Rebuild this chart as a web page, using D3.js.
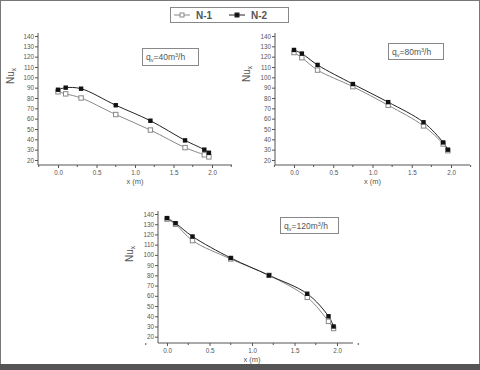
<!DOCTYPE html>
<html><head><meta charset="utf-8">
<script src="https://cdn.jsdelivr.net/npm/d3@7/dist/d3.min.js"></script>
<style>html,body{margin:0;padding:0;background:#fff;}svg{display:block;font-family:"Liberation Sans",Arial,sans-serif;}</style>
</head><body>
<script>
// ---- data ----
const xPos = [0, 0.1, 0.3, 0.75, 1.2, 1.65, 1.9, 1.96];
const seriesNames = ["N-1", "N-2"];
const n1_q40 = [86, 84, 80, 64, 49, 32, 25, 23];
const n2_q40 = [88, 90, 89, 73, 58, 39, 30, 27];
const n1_q80 = [124, 119, 107, 91, 73, 53, 35.5, 29];
const n2_q80 = [126.5, 123, 112, 93.5, 76, 56.5, 37, 30];
const n1_q120 = [135, 130, 114, 96, 80, 58.5, 35, 28];
const n2_q120 = [136, 131, 118, 97, 80, 62, 40, 30];
const flowLabels = ["40", "80", "120"];
const yTicks = [20, 30, 40, 50, 60, 70, 80, 90, 100, 110, 120, 130, 140];
const xTicks = [0.0, 0.5, 1.0, 1.5, 2.0];
const xMinorTicks = [-0.25, 0.25, 0.75, 1.25, 1.75, 2.25];

const W = 480, H = 370;
const svg = d3.select("body").append("svg").attr("width", W).attr("height", H);
svg.append("rect").attr("x", 0).attr("y", 0).attr("width", W).attr("height", H).attr("fill", "#fff");
// frame
svg.append("rect").attr("x", 0.5).attr("y", 0.5).attr("width", W - 1).attr("height", 364)
  .attr("fill", "none").attr("stroke", "#777").attr("stroke-width", 1);
svg.append("rect").attr("x", 0).attr("y", 364).attr("width", W).attr("height", 6).attr("fill", "#555");

const panels = [
  {n1: n1_q40, n2: n2_q40, q: flowLabels[0], axL: 38, axR: 232, x0: 58, x2: 212, yTop: 36, yBot: 160, axB: 165, axT: 33,
   box: [142, 48, 56, 17], nuX: 14, nuY: 76, xlabY: 184},
  {n1: n1_q80, n2: n2_q80, q: flowLabels[1], axL: 275, axR: 470, x0: 294, x2: 451, yTop: 36, yBot: 160, axB: 165, axT: 33,
   box: [388, 43, 55, 16], nuX: 250, nuY: 74, xlabY: 184},
  {n1: n1_q120, n2: n2_q120, q: flowLabels[2], axL: 158, axR: 353, x0: 167, x2: 337, yTop: 214, yBot: 336.7, axB: 343, axT: 211,
   box: [280, 217, 58, 16], nuX: 133, nuY: 254, xlabY: 362}
];

const txt = "#555";
const ms = 4.4;
panels.forEach(p => {
  const x = d3.scaleLinear().domain([0, 2]).range([p.x0, p.x2]);
  const y = d3.scaleLinear().domain([20, 140]).range([p.yBot, p.yTop]);
  const g = svg.append("g");
  // y axis
  const ya = g.append("g").attr("transform", `translate(${p.axL},0)`)
    .call(d3.axisLeft(y).tickValues(yTicks).tickSize(3).tickPadding(1).tickFormat(d3.format("d")));
  ya.select(".domain").remove();
  ya.append("line").attr("x1", 0).attr("x2", 0).attr("y1", p.axT).attr("y2", p.axB).attr("stroke", "#555");
  ya.selectAll("text").attr("font-size", 6.3).attr("fill", txt);
  ya.selectAll("line").attr("stroke", "#555");
  // x axis
  const xa = g.append("g").attr("transform", `translate(0,${p.axB})`)
    .call(d3.axisBottom(x).tickValues(xTicks).tickSize(3).tickPadding(3).tickFormat(d3.format(".1f")));
  xa.select(".domain").remove();
  xa.append("line").attr("x1", p.axL).attr("x2", p.axR).attr("y1", 0).attr("y2", 0).attr("stroke", "#555");
  xa.selectAll("text").attr("font-size", 6.3).attr("fill", txt);
  xa.selectAll("line").attr("stroke", "#555");
  xa.selectAll(".minor").data(xMinorTicks).enter().append("line")
    .attr("x1", d => x(d)).attr("x2", d => x(d)).attr("y1", 0).attr("y2", 2).attr("stroke", "#555");
  // labels
  g.append("text").attr("x", x(1)).attr("y", p.xlabY).attr("text-anchor", "middle")
    .attr("font-size", 7.5).attr("fill", txt).text("x (m)");
  const nu = g.append("text").attr("transform", `translate(${p.nuX},${p.nuY}) rotate(-90)`)
    .attr("text-anchor", "middle").attr("font-size", 10).attr("fill", txt);
  nu.append("tspan").text("Nu");
  nu.append("tspan").attr("font-size", 6.5).attr("dy", 2).text("x");
  // annotation box
  const [bx, by, bw, bh] = p.box;
  g.append("rect").attr("x", bx + 0.5).attr("y", by + 0.5).attr("width", bw).attr("height", bh)
    .attr("fill", "#fff").attr("stroke", "#888");
  const t = g.append("text").attr("x", bx + 4).attr("y", by + bh / 2 + 3.5).attr("font-size", 8.5).attr("fill", txt);
  t.append("tspan").text("q");
  t.append("tspan").attr("font-size", 5.5).attr("dy", 2).text("v");
  t.append("tspan").attr("dy", -2).text("=" + p.q + "m");
  t.append("tspan").attr("font-size", 5.5).attr("dy", -3).text("3");
  t.append("tspan").attr("dy", 3).text("/h");
  // lines
  const line = d3.line().x((d, i) => x(xPos[i])).y(d => y(d)).curve(d3.curveCatmullRom.alpha(0.5));
  g.append("path").attr("d", line(p.n1)).attr("fill", "none").attr("stroke", "#888").attr("stroke-width", 1);
  g.append("path").attr("d", line(p.n2)).attr("fill", "none").attr("stroke", "#222").attr("stroke-width", 1);
  g.selectAll(".m1").data(p.n1).enter().append("rect")
    .attr("x", (d, i) => x(xPos[i]) - ms / 2).attr("y", d => y(d) - ms / 2).attr("width", ms).attr("height", ms)
    .attr("fill", "#fff").attr("stroke", "#888").attr("stroke-width", 1);
  g.selectAll(".m2").data(p.n2).enter().append("rect")
    .attr("x", (d, i) => x(xPos[i]) - ms / 2).attr("y", d => y(d) - ms / 2).attr("width", ms).attr("height", ms)
    .attr("fill", "#111");
});

// legend
const lg = svg.append("g");
lg.append("rect").attr("x", 170.5).attr("y", 7.5).attr("width", 118).attr("height", 15)
  .attr("fill", "#fff").attr("stroke", "#888");
const legItems = [{name: seriesNames[0], x: 174, fill: "#fff", stroke: "#888"}, {name: seriesNames[1], x: 229, fill: "#111", stroke: "#222"}];
legItems.forEach(it => {
  lg.append("line").attr("x1", it.x).attr("x2", it.x + 16).attr("y1", 15).attr("y2", 15).attr("stroke", it.stroke);
  lg.append("rect").attr("x", it.x + 6).attr("y", 13).attr("width", 4).attr("height", 4)
    .attr("fill", it.fill).attr("stroke", it.stroke);
  lg.append("text").attr("x", it.x + 22).attr("y", 18.5).attr("font-size", 10).attr("font-weight", "bold").attr("fill", "#555").text(it.name);
});
</script>
</body></html>
